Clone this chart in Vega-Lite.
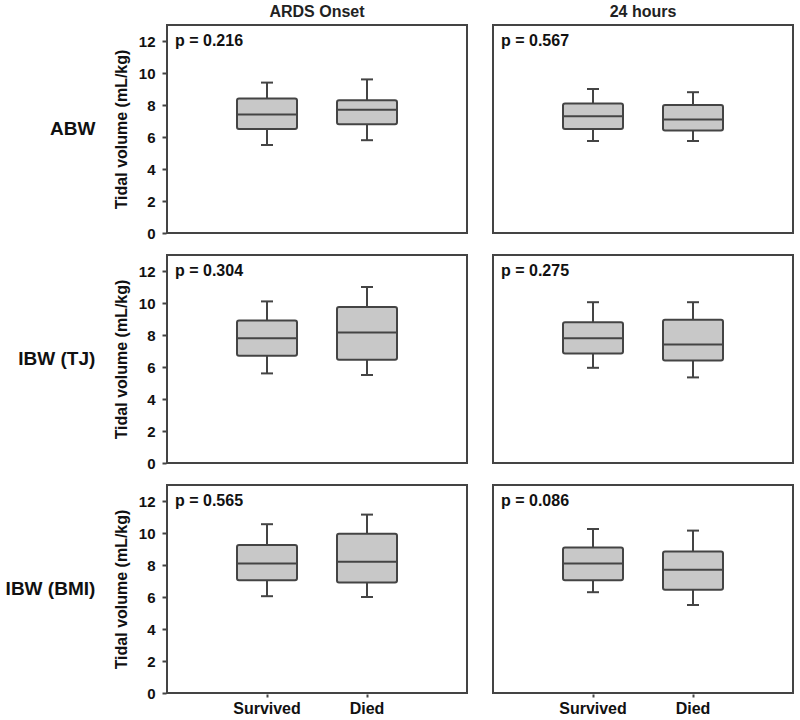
{
  "$schema": "https://vega.github.io/schema/vega-lite/v6.json",
  "padding": {"left": 5, "top": 4, "right": 3, "bottom": 0},
  "background": "white",
  "data": {
    "values": [
      {"measure": "ABW", "time": "ARDS Onset", "group": "Survived", "min": 5.5, "q1": 6.5, "median": 7.4, "q3": 8.4, "max": 9.4, "p": "p = 0.216"},
      {"measure": "ABW", "time": "ARDS Onset", "group": "Died", "min": 5.8, "q1": 6.8, "median": 7.7, "q3": 8.3, "max": 9.6, "p": "p = 0.216"},
      {"measure": "ABW", "time": "24 hours", "group": "Survived", "min": 5.75, "q1": 6.5, "median": 7.3, "q3": 8.1, "max": 9.0, "p": "p = 0.567"},
      {"measure": "ABW", "time": "24 hours", "group": "Died", "min": 5.75, "q1": 6.4, "median": 7.1, "q3": 8.0, "max": 8.8, "p": "p = 0.567"},
      {"measure": "IBW (TJ)", "time": "ARDS Onset", "group": "Survived", "min": 5.6, "q1": 6.7, "median": 7.8, "q3": 8.9, "max": 10.1, "p": "p = 0.304"},
      {"measure": "IBW (TJ)", "time": "ARDS Onset", "group": "Died", "min": 5.5, "q1": 6.45, "median": 8.15, "q3": 9.75, "max": 11.0, "p": "p = 0.304"},
      {"measure": "IBW (TJ)", "time": "24 hours", "group": "Survived", "min": 5.95, "q1": 6.85, "median": 7.8, "q3": 8.8, "max": 10.05, "p": "p = 0.275"},
      {"measure": "IBW (TJ)", "time": "24 hours", "group": "Died", "min": 5.35, "q1": 6.4, "median": 7.4, "q3": 8.95, "max": 10.05, "p": "p = 0.275"},
      {"measure": "IBW (BMI)", "time": "ARDS Onset", "group": "Survived", "min": 6.05, "q1": 7.05, "median": 8.1, "q3": 9.25, "max": 10.55, "p": "p = 0.565"},
      {"measure": "IBW (BMI)", "time": "ARDS Onset", "group": "Died", "min": 6.0, "q1": 6.9, "median": 8.2, "q3": 9.95, "max": 11.15, "p": "p = 0.565"},
      {"measure": "IBW (BMI)", "time": "24 hours", "group": "Survived", "min": 6.3, "q1": 7.05, "median": 8.1, "q3": 9.1, "max": 10.25, "p": "p = 0.086"},
      {"measure": "IBW (BMI)", "time": "24 hours", "group": "Died", "min": 5.5, "q1": 6.45, "median": 7.7, "q3": 8.85, "max": 10.15, "p": "p = 0.086"}
    ]
  },
  "facet": {
    "row": {
      "field": "measure", "type": "nominal",
      "sort": ["ABW", "IBW (TJ)", "IBW (BMI)"],
      "header": {"title": null, "labelAngle": 0, "labelOrient": "left", "labelAlign": "left", "labelFont": "Liberation Sans", "labelFontSize": 19, "labelFontWeight": "bold", "labelColor": "#111", "labelPadding": 18}
    },
    "column": {
      "field": "time", "type": "nominal",
      "sort": ["ARDS Onset", "24 hours"],
      "header": {"title": null, "labelOrient": "top", "labelFont": "Liberation Sans", "labelFontSize": 16, "labelFontWeight": "bold", "labelColor": "#222", "labelPadding": 4}
    }
  },
  "spacing": {"row": 20, "column": 24},
  "spec": {
    "width": 300,
    "height": 208,
    "encoding": {
      "x": {
        "field": "group", "type": "nominal", "sort": ["Survived", "Died"],
        "scale": {"paddingInner": 0, "paddingOuter": 0.5},
        "axis": {"title": null, "labelAngle": 0, "domain": false, "ticks": true, "tickSize": 3, "tickColor": "#444", "tickWidth": 2, "labelFont": "Liberation Sans", "labelFontSize": 16, "labelFontWeight": "bold", "labelColor": "#111", "labelPadding": 3}
      }
    },
    "layer": [
      {
        "mark": {"type": "rule", "color": "#444", "strokeWidth": 2},
        "encoding": {
          "y": {"field": "min", "type": "quantitative", "scale": {"domain": [0, 13], "nice": false},
            "axis": {"title": "Tidal volume (mL/kg)", "values": [0, 2, 4, 6, 8, 10, 12]}},
          "y2": {"field": "max"}
        }
      },
      {
        "mark": {"type": "bar", "size": 60, "fill": "#c8c8c8", "stroke": "#444", "strokeWidth": 2, "cornerRadius": 2},
        "encoding": {"y": {"field": "q1", "type": "quantitative", "axis": {"title": "Tidal volume (mL/kg)", "values": [0, 2, 4, 6, 8, 10, 12]}}, "y2": {"field": "q3"}}
      },
      {
        "mark": {"type": "tick", "size": 60, "thickness": 2, "color": "#444", "opacity": 1},
        "encoding": {"y": {"field": "median", "type": "quantitative", "axis": {"title": "Tidal volume (mL/kg)", "values": [0, 2, 4, 6, 8, 10, 12]}}}
      },
      {
        "mark": {"type": "tick", "size": 12, "thickness": 2, "color": "#444", "opacity": 1},
        "encoding": {"y": {"field": "min", "type": "quantitative", "axis": {"title": "Tidal volume (mL/kg)", "values": [0, 2, 4, 6, 8, 10, 12]}}}
      },
      {
        "mark": {"type": "tick", "size": 12, "thickness": 2, "color": "#444", "opacity": 1},
        "encoding": {"y": {"field": "max", "type": "quantitative", "axis": {"title": "Tidal volume (mL/kg)", "values": [0, 2, 4, 6, 8, 10, 12]}}}
      },
      {
        "transform": [{"filter": "datum.group === 'Survived'"}],
        "mark": {"type": "text", "align": "left", "baseline": "middle", "font": "Liberation Sans", "fontSize": 16, "fontWeight": "bold", "color": "#111"},
        "encoding": {
          "x": {"value": 8},
          "y": {"datum": 12, "type": "quantitative", "axis": {"title": "Tidal volume (mL/kg)", "values": [0, 2, 4, 6, 8, 10, 12]}},
          "text": {"field": "p"}
        }
      }
    ]
  },
  "resolve": {"scale": {"y": "shared"}},
  "config": {
    "view": {"stroke": "#444", "strokeWidth": 2},
    "axisY": {"labelOverlap": false, "grid": false, "domain": false, "tickSize": 4, "tickColor": "#444", "tickWidth": 2, "labelFont": "Liberation Sans", "labelFontSize": 15, "labelFontWeight": "bold", "labelColor": "#111", "labelPadding": 7, "titleFont": "Liberation Sans", "titleFontSize": 16, "titleFontWeight": "bold", "titleColor": "#111", "titlePadding": 9}
  }
}
